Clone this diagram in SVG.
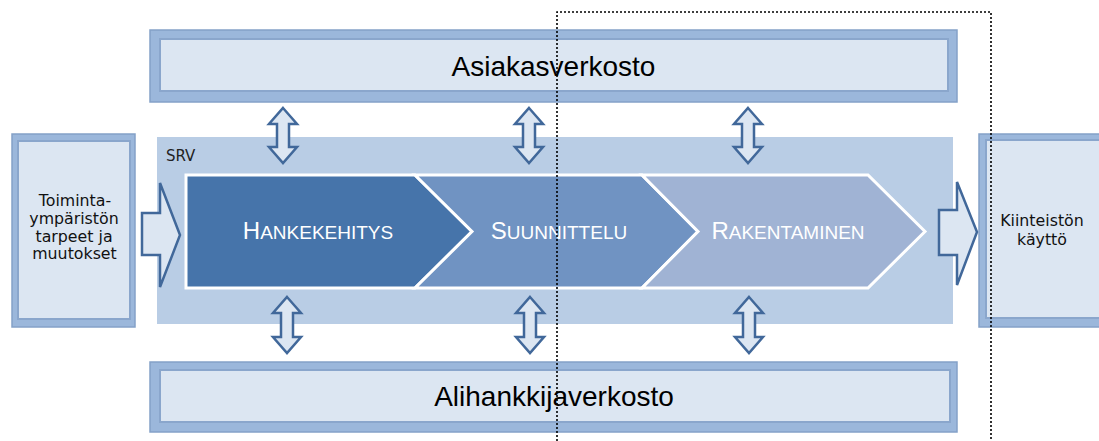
<svg xmlns="http://www.w3.org/2000/svg" width="1099" height="441" viewBox="0 0 1099 441">
<defs>
<style>
.frame{fill:#9bb7db;stroke:#84a1c8;stroke-width:1.5}
.inner{fill:#dce6f2;stroke:#8aa6cc;stroke-width:2}
.big{font-family:"Liberation Sans",Arial,sans-serif;font-size:28px;fill:#000;text-anchor:middle}
.side{font-family:"DejaVu Sans",Verdana,sans-serif;font-size:15.8px;fill:#111;text-anchor:middle}
.chev{stroke:#fff;stroke-width:3;stroke-linejoin:miter}
.ct{font-family:"Liberation Sans",Arial,sans-serif;fill:#fff;text-anchor:middle}
.ct .cap{font-size:24px}
.ct .sc{font-size:19px}
.arr{fill:#dce6f2;stroke:#41689a;stroke-width:2.5;stroke-linejoin:miter}
.dot{fill:none;stroke:#000;stroke-width:1.6;stroke-dasharray:2 2}
</style>
</defs>
<rect width="1099" height="441" fill="#fff"/>

<g id="srv">
<rect x="157" y="137" width="796" height="187" fill="#b9cde5"/>
<text x="166" y="161" font-family="'DejaVu Sans',Verdana,sans-serif" font-size="15" fill="#222">SRV</text>
</g>

<g id="asiakasverkosto">
<rect class="frame" x="150" y="30" width="807" height="72"/>
<rect class="inner" x="160" y="39" width="788" height="52"/>
<text class="big" x="553.5" y="76">Asiakasverkosto</text>
</g>

<g id="alihankkijaverkosto">
<rect class="frame" x="150" y="362" width="807" height="70"/>
<rect class="inner" x="160" y="370" width="790" height="52"/>
<text class="big" x="554" y="406">Alihankkijaverkosto</text>
</g>

<g id="toimintaymparisto">
<rect class="frame" x="12" y="134" width="123" height="193"/>
<rect class="inner" x="18" y="141" width="112" height="178"/>
<text class="side" x="75" y="206">Toiminta-</text>
<text class="side" x="74" y="224">ympäristön</text>
<text class="side" x="74" y="241.5">tarpeet ja</text>
<text class="side" x="74.5" y="259">muutokset</text>
</g>

<g id="kiinteiston-kaytto">
<rect class="frame" x="979" y="134" width="125" height="193"/>
<rect class="inner" x="986" y="140" width="115" height="178"/>
<text class="side" x="1042" y="226">Kiinteistön</text>
<text class="side" x="1042" y="245">käyttö</text>
</g>

<g id="hankekehitys">
<polygon class="chev" fill="#4674aa" points="186,175 415,175 472,231.5 415,288 186,288"/>
<text class="ct" x="318" y="239"><tspan class="cap">H</tspan><tspan class="sc">ANKEKEHITYS</tspan></text>
</g>
<g id="suunnittelu">
<polygon class="chev" fill="#7093c2" points="415,175 642,175 698,231.5 642,288 415,288 472,231.5"/>
<text class="ct" x="559" y="239"><tspan class="cap">S</tspan><tspan class="sc">UUNNITTELU</tspan></text>
</g>
<g id="rakentaminen">
<polygon class="chev" fill="#a0b3d4" points="642,175 868,175 925,231.5 868,288 642,288 698,231.5"/>
<text class="ct" x="788" y="239"><tspan class="cap">R</tspan><tspan class="sc">AKENTAMINEN</tspan></text>
</g>

<g id="connectors">
<path class="arr" d="M142,213 H160 V183 L180,235 L160,287 V255 H142 Z"/>
<path class="arr" d="M939,210 H957 V182 L977,232 L957,285 V255 H939 Z"/>
<path class="arr" d="M283,108 L297,124 H289 V147 H297 L283,163 L269,147 H277 V124 H269 Z"/>
<path class="arr" d="M529,108 L543,124 H535 V147 H543 L529,163 L515,147 H523 V124 H515 Z"/>
<path class="arr" d="M748,108 L762,124 H754 V147 H762 L748,163 L734,147 H742 V124 H734 Z"/>
<path class="arr" d="M287,297 L301,313 H293 V337 H301 L287,353 L273,337 H281 V313 H273 Z"/>
<path class="arr" d="M530,297 L544,313 H536 V337 H544 L530,353 L516,337 H524 V313 H516 Z"/>
<path class="arr" d="M749,297 L763,313 H755 V337 H763 L749,353 L735,337 H743 V313 H735 Z"/>
</g>

<g id="scope">
<path class="dot" d="M557,441 V12 H991 V441"/>
</g>
</svg>
